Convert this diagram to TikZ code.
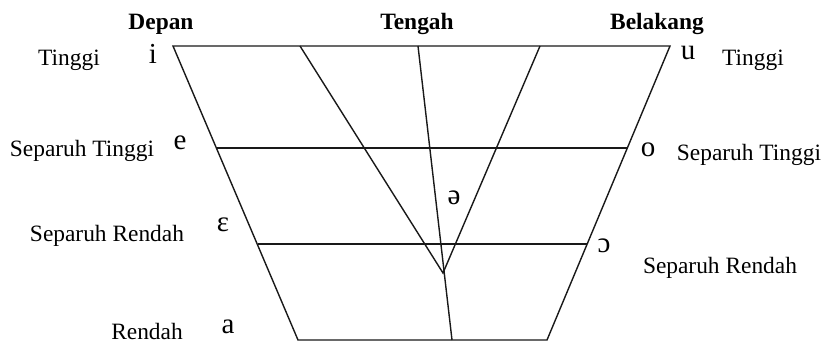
\documentclass[tikz,border=0pt]{standalone}
\usepackage{fontspec}
\setmainfont{Liberation Serif}
\usepackage{tikz}

\begin{document}
\begin{tikzpicture}[x=0.5pt,y=-0.5pt,
 ln/.style={line width=0.7pt,draw=black!90},
 hdr/.style={font=\fontsize{11.7}{14}\selectfont\bfseries,inner sep=0pt},
 lbl/.style={font=\fontsize{11.7}{14}\selectfont,inner sep=0pt},
 vow/.style={font=\fontsize{14.5}{17}\selectfont,inner sep=0pt}]
\useasboundingbox (0,0) rectangle (823,343);
% corners of the chart
\coordinate (tl) at (173,46);
\coordinate (tr) at (670,46);
\coordinate (bl) at (298,340);
\coordinate (br) at (547,340);
\coordinate (ml) at (217,148);
\coordinate (mr) at (628,148);
\coordinate (ll) at (258,244);
\coordinate (lr) at (587,244);
% inner lines
\coordinate (t1) at (300,46);
\coordinate (t2) at (418,46);
\coordinate (t3) at (540,46);
\coordinate (b2) at (452,340);
\coordinate (v) at (443,273);
\draw[ln] (tl) -- (tr) -- (br) -- (bl) -- cycle;
\draw[ln] (ml) -- (mr);
\draw[ln] (ll) -- (lr);
\draw[ln] (t1) -- (v) -- (t3);
\draw[ln] (t2) -- (b2);
% headings
\node[hdr] (dep) at (161,24) {Depan};
\node[hdr] (ten) at (417,24) {Tengah};
\node[hdr] (bel) at (657,24) {Belakang};
% heights
\node[lbl] (ti1) at (69,60) {Tinggi};
\node[lbl] (st1) at (82,151) {Separuh Tinggi};
\node[lbl] (sr1) at (107,236) {Separuh Rendah};
\node[lbl] (re1) at (147,331) {Rendah};
\node[lbl] (ti2) at (753,60) {Tinggi};
\node[lbl] (st2) at (749,155) {Separuh Tinggi};
\node[lbl] (sr2) at (720,268) {Separuh Rendah};
% vowels
\node[vow] (i) at (153,54) {i};
\node[vow] (u) at (688,53) {u};
\node[vow] (e) at (180,143) {e};
\node[vow] (o) at (648,150) {o};
\node[vow] (eh) at (223,225) {ɛ};
\node[vow] (oh) at (604,246) {ɔ};
\node[vow] (a) at (228,327) {a};
\node[vow] (sch) at (454,198) {ə};
\end{tikzpicture}
\end{document}
